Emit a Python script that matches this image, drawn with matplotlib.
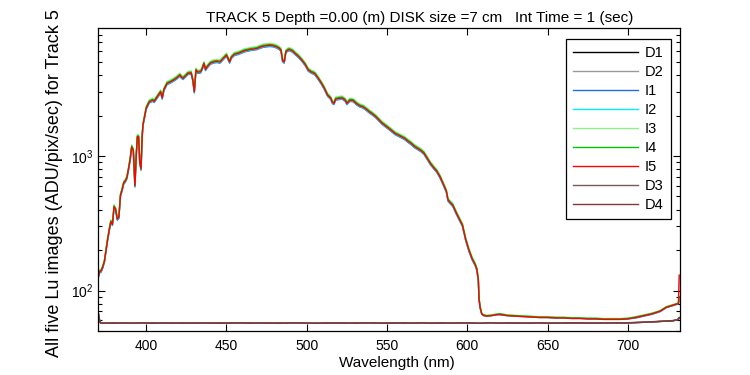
import matplotlib
matplotlib.use("Agg")
import matplotlib.pyplot as plt
from matplotlib.ticker import LogLocator, NullFormatter, FixedLocator

plt.rcParams['font.family'] = ['Liberation Sans', 'DejaVu Sans']

# ---------------- data ----------------
WL = [370.5, 371, 372, 373, 374, 375, 376, 377, 378, 379,
      380, 381, 382, 383, 384, 385, 386, 387, 388, 389,
      390, 391, 392, 393, 393.8, 394.5, 395.3, 396, 396.8, 397.5,
      398, 399, 400, 401, 402, 404, 405, 407, 409, 410,
      411, 413, 415, 417, 419, 421, 422, 423, 425, 426,
      428, 429, 430, 431, 432, 434, 435, 436, 437, 438,
      440, 442, 444, 446, 448, 450, 451, 452, 453, 455,
      457, 459, 461, 463, 465, 467, 469, 471, 473, 475,
      477, 479, 481, 483, 484, 485, 486, 487, 488, 489,
      491, 493, 495, 497, 499, 501, 503, 505, 507, 509,
      511, 513, 515, 516, 517, 518, 520, 522, 524, 525,
      527, 529, 531, 533, 535, 537, 539, 541, 543, 545,
      547, 549, 551, 553, 555, 557, 559, 561, 563, 565,
      567, 569, 571, 573, 575, 577, 579, 581, 583, 585,
      587, 588, 589, 591, 593, 595, 597, 599, 601, 603,
      605, 606, 606.9, 607.3, 608, 609, 610, 612, 615, 618,
      620, 622, 625, 630, 635, 640, 645, 650, 655, 660,
      665, 670, 675, 680, 685, 690, 695, 700, 705, 710,
      715, 720, 724, 727, 730, 731.5, 732]

I5 = [130, 138, 140, 150, 165, 200, 240, 282, 325, 310,
      420, 400, 340, 350, 510, 560, 630, 650, 690, 800,
      940, 1170, 1100, 600, 1000, 1390, 1390, 900, 800, 1390,
      1700, 1960, 2260, 2400, 2530, 2600, 2550, 2760, 3000, 2700,
      3100, 3460, 3550, 3660, 3800, 3990, 3850, 3780, 4000, 4110,
      4150, 3700, 3000, 4350, 4200, 4230, 4500, 4870, 4400, 4600,
      4900, 5010, 5050, 5000, 5300, 5620, 5300, 5000, 5400, 5700,
      5780, 5900, 6050, 6120, 6200, 6250, 6300, 6450, 6560, 6600,
      6650, 6610, 6500, 6300, 6100, 5100, 5000, 5950, 6100, 6190,
      6050, 5750, 5480, 5150, 4800, 4350, 4200, 4100, 3800, 3500,
      3180, 2830, 2680, 2500, 2460, 2650, 2680, 2700, 2600, 2460,
      2600, 2580, 2450, 2360, 2320, 2230, 2130, 2050, 1960, 1850,
      1750, 1680, 1610, 1540, 1470, 1430, 1390, 1350, 1290, 1240,
      1180, 1140, 1100, 1050, 960, 880, 820, 770, 700, 620,
      545, 471, 455, 430, 380, 340, 305, 240, 200, 172,
      155, 143, 119, 87, 75, 67, 65.5, 64.5, 65, 66,
      66.5, 66, 65, 64.5, 64, 63.5, 63, 63, 62.5, 62.5,
      62, 62, 61.5, 61.5, 61, 61, 61, 61.5, 63, 65,
      67, 70, 75, 77, 79, 80, 130]

I3 = [135, 143, 145, 155, 171, 207, 248, 292, 336, 321,
      435, 414, 352, 362, 528, 580, 652, 673, 714, 828,
      973, 1211, 1139, 621, 1035, 1439, 1439, 932, 828, 1439,
      1760, 2029, 2339, 2484, 2619, 2691, 2639, 2857, 3105, 2795,
      3209, 3581, 3674, 3788, 3933, 4130, 3985, 3912, 4140, 4254,
      4295, 3830, 3105, 4502, 4347, 4378, 4658, 5040, 4554, 4761,
      5072, 5185, 5227, 5175, 5486, 5817, 5486, 5175, 5589, 5900,
      5982, 6107, 6262, 6334, 6417, 6469, 6521, 6676, 6790, 6831,
      6883, 6841, 6728, 6521, 6314, 5279, 5175, 6158, 6314, 6407,
      6262, 5951, 5672, 5330, 4968, 4502, 4347, 4244, 3933, 3623,
      3291, 2929, 2774, 2588, 2546, 2743, 2774, 2795, 2691, 2546,
      2691, 2670, 2536, 2443, 2401, 2308, 2205, 2122, 2029, 1915,
      1811, 1739, 1666, 1594, 1521, 1480, 1439, 1397, 1335, 1283,
      1221, 1180, 1139, 1087, 994, 911, 849, 797, 725, 642,
      564, 487, 471, 445, 393, 352, 316, 248, 207, 178,
      160, 148, 123, 90, 77, 68, 66.5, 65.5, 66, 67,
      67.5, 67, 66, 65.5, 65, 64.5, 64, 64, 63.5, 63.5,
      63, 63, 62.5, 62.5, 62, 62, 62, 62.5, 64, 66,
      68, 71, 76, 78, 80, 81, 82]

I4 = [132, 140, 142, 152, 167, 203, 244, 286, 330, 315,
      426, 406, 345, 355, 518, 568, 639, 660, 700, 812,
      954, 1188, 1117, 609, 1015, 1411, 1411, 914, 812, 1411,
      1726, 1989, 2294, 2436, 2568, 2639, 2588, 2801, 3045, 2741,
      3147, 3512, 3603, 3715, 3857, 4050, 3908, 3837, 4060, 4172,
      4212, 3756, 3045, 4415, 4263, 4293, 4568, 4943, 4466, 4669,
      4974, 5085, 5126, 5075, 5380, 5704, 5380, 5075, 5481, 5786,
      5867, 5989, 6141, 6212, 6293, 6344, 6395, 6547, 6658, 6699,
      6750, 6709, 6598, 6395, 6192, 5177, 5075, 6039, 6192, 6283,
      6141, 5836, 5562, 5227, 4872, 4415, 4263, 4162, 3857, 3553,
      3228, 2872, 2720, 2538, 2497, 2690, 2720, 2741, 2639, 2497,
      2639, 2619, 2487, 2395, 2355, 2263, 2162, 2081, 1989, 1878,
      1776, 1705, 1634, 1563, 1492, 1451, 1411, 1370, 1309, 1259,
      1198, 1157, 1117, 1066, 974, 893, 832, 782, 711, 629,
      553, 478, 462, 436, 386, 345, 310, 244, 203, 175,
      157, 145, 121, 88, 76, 67.5, 66, 65, 65.5, 66.5,
      67, 66.5, 65.5, 65, 64.5, 64, 63.5, 63.5, 63, 63,
      62.5, 62.5, 62, 62, 61.5, 61.5, 61.5, 62, 63.5, 65.5,
      67.5, 70.5, 75.5, 77.5, 79.5, 80.5, 90]

I2 = [129, 137, 139, 149, 163, 198, 238, 279, 322, 307,
      416, 396, 337, 347, 505, 554, 624, 644, 683, 792,
      931, 1158, 1089, 594, 990, 1376, 1376, 891, 792, 1376,
      1683, 1940, 2237, 2376, 2505, 2574, 2525, 2732, 2970, 2673,
      3069, 3425, 3515, 3623, 3762, 3950, 3812, 3742, 3960, 4069,
      4109, 3663, 2970, 4307, 4158, 4188, 4455, 4821, 4356, 4554,
      4851, 4960, 5000, 4950, 5247, 5564, 5247, 4950, 5346, 5643,
      5722, 5841, 5990, 6059, 6138, 6188, 6237, 6386, 6494, 6534,
      6584, 6544, 6435, 6237, 6039, 5049, 4950, 5891, 6039, 6128,
      5990, 5693, 5425, 5099, 4752, 4307, 4158, 4059, 3762, 3465,
      3148, 2802, 2653, 2475, 2435, 2624, 2653, 2673, 2574, 2435,
      2574, 2554, 2426, 2336, 2297, 2208, 2109, 2030, 1940, 1832,
      1733, 1663, 1594, 1525, 1455, 1416, 1376, 1337, 1277, 1228,
      1168, 1129, 1089, 1040, 950, 871, 812, 762, 693, 614,
      540, 466, 450, 426, 376, 337, 302, 238, 198, 170,
      153, 142, 118, 86, 74, 67, 65.5, 65, 65.5, 66,
      66.5, 66, 65.5, 65, 64.5, 64, 63.5, 63, 63, 62.5,
      62.5, 62.5, 62, 62, 61.5, 61.5, 61.5, 61.5, 63, 65,
      67, 70, 75, 77, 79, 80, 85]

I1 = [127, 135, 137, 147, 162, 196, 235, 276, 318, 304,
      412, 392, 333, 343, 500, 549, 617, 637, 676, 784,
      921, 1147, 1078, 588, 980, 1362, 1362, 882, 784, 1362,
      1666, 1921, 2215, 2352, 2479, 2548, 2499, 2705, 2940, 2646,
      3038, 3391, 3479, 3587, 3724, 3910, 3773, 3704, 3920, 4028,
      4067, 3626, 2940, 4263, 4116, 4145, 4410, 4773, 4312, 4508,
      4802, 4910, 4949, 4900, 5194, 5508, 5194, 4900, 5292, 5586,
      5664, 5782, 5929, 5998, 6076, 6125, 6174, 6321, 6429, 6468,
      6517, 6478, 6370, 6174, 5978, 4998, 4900, 5831, 5978, 6066,
      5929, 5635, 5370, 5047, 4704, 4263, 4116, 4018, 3724, 3430,
      3116, 2773, 2626, 2450, 2411, 2597, 2626, 2646, 2548, 2411,
      2548, 2528, 2401, 2313, 2274, 2185, 2087, 2009, 1921, 1813,
      1715, 1646, 1578, 1509, 1441, 1401, 1362, 1323, 1264, 1215,
      1156, 1117, 1078, 1029, 941, 862, 804, 755, 686, 608,
      534, 462, 446, 421, 372, 333, 299, 235, 196, 169,
      152, 140, 117, 85, 74, 66.5, 65, 64.5, 65, 66,
      66, 65.5, 65, 64.5, 64, 63.5, 63, 63, 62.5, 62.5,
      62, 62, 61.5, 61.5, 61, 61, 61, 61.5, 62.5, 64.5,
      66.5, 69.5, 74.5, 76.5, 78.5, 79.5, 84]

WL_D = [370, 370.7, 371.5,
        374, 380, 386, 392, 398, 404, 410, 416, 422, 428,
        434, 440, 446, 452, 458, 464, 470, 476, 482, 488,
        494, 500, 506, 512, 518, 524, 530, 536, 542, 548,
        554, 560, 566, 572, 578, 584, 590, 596, 602, 608,
        614, 620, 626, 632, 638, 644, 650, 656, 662, 668,
        674, 680, 686, 692, 698, 704, 710, 716, 722, 728,
        731, 732]

D1 = [70, 62, 57.5,
      57.2, 57.5, 57.0, 57.4, 57.1, 57.6, 57.2, 57.0, 57.5, 57.3,
      57.1, 57.4, 57.6, 57.0, 57.3, 57.5, 57.1, 57.2, 57.6, 57.0,
      57.4, 57.3, 57.1, 57.5, 57.2, 57.0, 57.4, 57.6, 57.1, 57.3,
      57.5, 57.0, 57.2, 57.4, 57.1, 57.6, 57.3, 57.0, 57.5, 57.2,
      57.4, 57.1, 57.3, 57.6, 57.0, 57.2, 57.5, 57.3, 57.1, 57.4,
      57.6, 57.2, 57.3, 57.5, 57.4, 57.7, 58.0, 58.5, 59.0, 59.5,
      60.5, 62]

D2 = [69, 61, 57.2,
      57.4, 57.0, 57.3, 57.6, 57.2, 57.1, 57.5, 57.3, 57.0, 57.4,
      57.6, 57.2, 57.1, 57.5, 57.3, 57.0, 57.4, 57.6, 57.2, 57.3,
      57.0, 57.5, 57.4, 57.1, 57.6, 57.3, 57.0, 57.2, 57.5, 57.4,
      57.1, 57.3, 57.6, 57.0, 57.4, 57.2, 57.5, 57.3, 57.1, 57.6,
      57.0, 57.4, 57.2, 57.3, 57.5, 57.1, 57.4, 57.0, 57.6, 57.2,
      57.3, 57.5, 57.1, 57.4, 57.6, 57.8, 58.2, 58.6, 59.2, 59.8,
      60.8, 62.5]

D3 = [71, 62.5, 57.6,
      57.0, 57.3, 57.5, 57.1, 57.4, 57.2, 57.6, 57.0, 57.3, 57.5,
      57.2, 57.0, 57.4, 57.6, 57.1, 57.3, 57.0, 57.5, 57.3, 57.6,
      57.2, 57.1, 57.4, 57.0, 57.3, 57.5, 57.2, 57.6, 57.0, 57.4,
      57.3, 57.6, 57.1, 57.2, 57.5, 57.0, 57.4, 57.6, 57.2, 57.1,
      57.5, 57.3, 57.0, 57.4, 57.2, 57.6, 57.1, 57.5, 57.3, 57.0,
      57.4, 57.2, 57.6, 57.3, 57.5, 57.6, 58.1, 58.4, 59.1, 59.6,
      60.6, 63]

D4 = [70.5, 61.5, 57.3,
      57.3, 57.1, 57.4, 57.2, 57.6, 57.0, 57.3, 57.5, 57.1, 57.2,
      57.5, 57.3, 57.0, 57.2, 57.6, 57.1, 57.5, 57.3, 57.0, 57.4,
      57.6, 57.2, 57.0, 57.3, 57.5, 57.4, 57.1, 57.3, 57.6, 57.0,
      57.2, 57.4, 57.3, 57.6, 57.0, 57.5, 57.1, 57.4, 57.3, 57.0,
      57.6, 57.2, 57.5, 57.1, 57.3, 57.4, 57.0, 57.2, 57.5, 57.6,
      57.1, 57.4, 57.2, 57.6, 57.3, 57.8, 58.1, 58.7, 59.1, 59.7,
      60.7, 62.8]

LABELS = ['D1', 'D2', 'I1', 'I2', 'I3', 'I4', 'I5', 'D3', 'D4']
COLORS = ['#000000', '#999999', '#1f6fdc', '#00f0ff', '#8cf08c',
          '#00c800', '#ff0000', '#7a5858', '#803a3a']
XTICKS = [400, 450, 500, 550, 600, 650, 700]

# ---------------- figure ----------------
W, H = 750, 375
fig = plt.figure(figsize=(W / 100, H / 100), dpi=100)
ax = fig.add_axes([98 / W, 1 - 331 / H, (680 - 98) / W, (331 - 28.3) / H])

series = [(WL_D, D1), (WL_D, D2), (WL, I1), (WL, I2), (WL, I3),
          (WL, I4), (WL, I5), (WL_D, D3), (WL_D, D4)]
for (x, y), lab, col in zip(series, LABELS, COLORS):
    ax.plot(x, y, color=col, lw=1.0, label=lab)

ax.set_yscale('log')
ax.set_xlim(370, 732.5)
ax.set_ylim(50, 8900)
ax.xaxis.set_major_locator(FixedLocator(XTICKS))
ax.yaxis.set_major_locator(LogLocator(base=10, numticks=10))
ax.yaxis.set_minor_locator(LogLocator(base=10, subs=range(2, 10), numticks=20))
ax.yaxis.set_minor_formatter(NullFormatter())

ax.tick_params(axis='both', which='both', direction='in', top=True, right=True,
               labelsize=10, colors='black', width=0.8)
ax.tick_params(axis='both', which='major', length=5)
ax.tick_params(axis='both', which='minor', length=3)
ax.tick_params(axis='x', pad=6)
for s in ax.spines.values():
    s.set_linewidth(0.9)
    s.set_color('black')

fig.text(420 / W, 1 - 18 / H,
         'TRACK 5 Depth =0.00 (m) DISK size =7 cm   Int Time = 1 (sec)',
         ha='center', va='center', fontsize=11)
fig.text(397 / W, 1 - 363 / H, 'Wavelength (nm)', ha='center', va='center',
         fontsize=11)
fig.text(55 / W, 1 - 357 / H, 'All five Lu images (ADU/pix/sec) for Track 5',
         rotation=90, ha='center', va='bottom', fontsize=13)

leg = ax.legend(loc='upper right', bbox_to_anchor=(671 / W, 1 - 39 / H),
                bbox_transform=fig.transFigure, borderaxespad=0,
                fontsize=10.5, handlelength=4.4, labelspacing=0.34,
                handletextpad=0.5, borderpad=0.5, fancybox=False,
                framealpha=1, edgecolor='black')
leg.get_frame().set_linewidth(0.9)

fig.savefig('out.png', dpi=100)
